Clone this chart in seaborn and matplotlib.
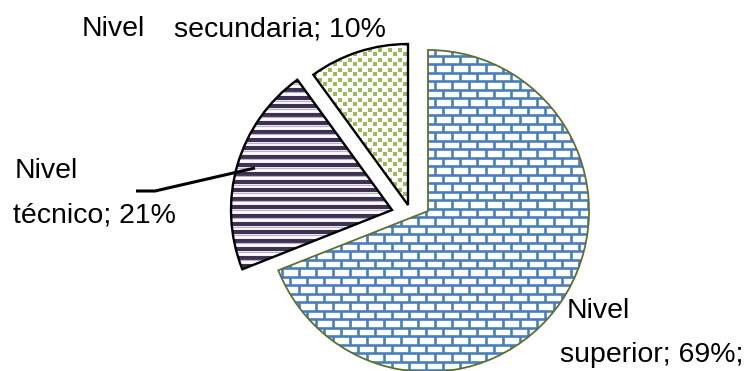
import numpy as np
import matplotlib
matplotlib.use("Agg")
import matplotlib.pyplot as plt
import seaborn as sns
from matplotlib.collections import LineCollection

# Education level shares (percent)
categories = ["superior", "técnico", "secundaria"]
shares = [69, 21, 10]
label_tails = [";", "", ""]

sns.set_theme(style="white")
plt.rcParams["font.family"] = ["Liberation Sans", "DejaVu Sans"]

W, H = 750, 371
R = 161.0                 # pie radius in pixels
CX, CY = 428.0, 211.0     # apex of the main wedge, pixels from top-left


def px(x, y):
    """Pixel position (from top-left) -> data coordinates."""
    return ((x - CX) / R, (CY - y) / R)


fig = plt.figure(figsize=(W / 100, H / 100), dpi=100)
ax = fig.add_axes([0, 0, 1, 1])

wedges, _ = ax.pie(shares, startangle=90, counterclock=False, radius=1,
                   wedgeprops=dict(facecolor="none"))
ax.set_aspect("auto")
ax.set_xlim(-CX / R, (W - CX) / R)
ax.set_ylim((CY - H) / R, CY / R)
ax.axis("off")

# pulled-out apex of every wedge
apexes = [(428, 211), (392, 210), (408, 205)]
edge_colors = ["#5b7132", "black", "black"]
edge_widths = [1.3, 1.7, 1.7]
for w, a, ec, lw in zip(wedges, apexes, edge_colors, edge_widths):
    w.set_center(px(*a))
    w.set_edgecolor(ec)
    w.set_linewidth(lw)
    w.set_zorder(3)

# --- brick fill for the main wedge ---
row_h, brick_w = 8.5, 17.0
segs = []
ys = np.arange(64 - row_h * 3, 380, row_h)
for k, y in enumerate(ys):
    segs.append([px(220, y), px(620, y)])
    shift = (k % 2) * brick_w / 2
    for x in np.arange(443 - brick_w * 14 + shift, 620, brick_w):
        segs.append([px(x, y), px(x, y + row_h)])
bricks = LineCollection(segs, colors="#4a7ebb", linewidths=1.9, zorder=1,
                        capstyle="butt")
ax.add_collection(bricks)
bricks.set_clip_path(wedges[0])

# --- horizontal stripes for the technical wedge ---
stripe_y = np.arange(156.7 - 8.4 * 10, 290, 8.4)
dark = LineCollection([[px(200, y), px(420, y)] for y in stripe_y],
                      colors="#3f3151", linewidths=3.0, zorder=1)
light = LineCollection([[px(200, y + 2.7), px(420, y + 2.7)] for y in stripe_y],
                       colors="#b9b0cc", linewidths=0.9, zorder=1)
for coll in (dark, light):
    ax.add_collection(coll)
    coll.set_clip_path(wedges[1])

# --- confetti fill for the secondary wedge ---
tile = 10.0
offsets = [(0.0, 0.0), (5.0, 4.0), (2.5, 7.5), (7.5, 2.0)]
pts = []
for gx in np.arange(300, 420, tile):
    for gy in np.arange(30, 215, tile):
        for ox, oy in offsets[:2]:
            pts.append(px(gx + ox, gy + oy))
pts = np.array(pts)
dots = ax.scatter(pts[:, 0], pts[:, 1], marker="s", s=8.5, color="#9bbb59",
                  linewidths=0, zorder=1)
dots.set_clip_path(wedges[2])

# --- labels ---
fs = 20.5
labels = [f"{c}; {v}%{t}" for c, v, t in zip(categories, shares, label_tails)]
label_pos = [((567, 318), (560, 362)),
             ((15, 178), (13, 222)),
             ((82, 36), (174, 36))]
for text, (p1, p2) in zip(labels, label_pos):
    ax.text(*px(*p1), "Nivel", fontsize=fs, ha="left", va="baseline",
            color="black")
    ax.text(*px(*p2), text, fontsize=fs, ha="left", va="baseline",
            color="black")

# leader line for the technical label
lx, ly = zip(px(136, 191), px(155, 191), px(255, 168))
ax.plot(lx, ly, color="black", lw=2.2, zorder=4, solid_capstyle="butt")

fig.savefig("out.png", dpi=100, facecolor="white")
